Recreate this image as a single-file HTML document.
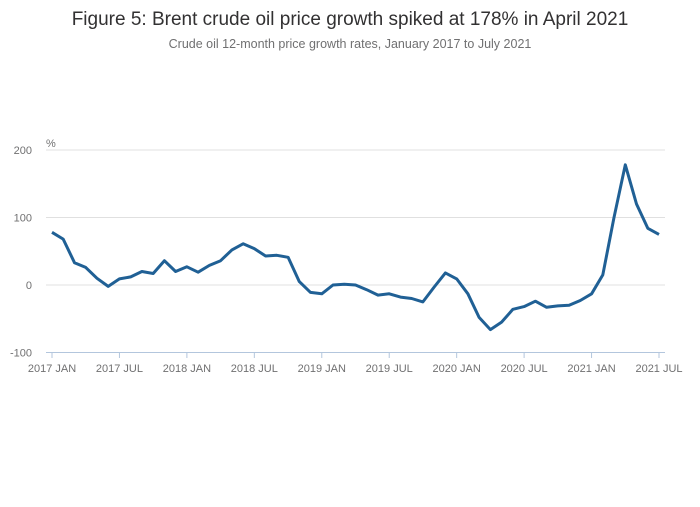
<!DOCTYPE html>
<html><head><meta charset="utf-8"><style>
body{margin:0;background:#fff;font-family:"Liberation Sans",sans-serif;}
svg text{font-family:"Liberation Sans",sans-serif;}
</style></head><body>
<svg width="700" height="502">
<text x="350" y="25" text-anchor="middle" font-size="19" fill="#323132">Figure 5: Brent crude oil price growth spiked at 178% in April 2021</text>
<text x="350" y="48" text-anchor="middle" font-size="12.5" fill="#707071">Crude oil 12-month price growth rates, January 2017 to July 2021</text>
<text x="46" y="147" font-size="11" fill="#707071">%</text>
<g id="grid"></g><g id="xaxis"></g>
<path id="line" fill="none" stroke="#206095" stroke-width="3" stroke-linejoin="round"/>
</svg>
<script>
const yTicks=[200,100,0,-100];
const xTickLabels=["2017 JAN","2017 JUL","2018 JAN","2018 JUL","2019 JAN","2019 JUL","2020 JAN","2020 JUL","2021 JAN","2021 JUL"];
const values=[78,68,33,26,10,-2,9,12,20,17,36,20,27,19,29,36,52,61,54,43,44,41,5,-11,-13,0,1,0,-7,-15,-13,-18,-20,-25,-3,18,9,-13,-48,-66,-55,-36,-32,-24,-33,-31,-30,-23,-13,15,100,178,120,84,75];
const NS="http://www.w3.org/2000/svg";
const x=i=>52+i*(607/54);
const y=v=>285-v*0.675;
const grid=document.getElementById('grid'),xa=document.getElementById('xaxis');
yTicks.forEach(t=>{
 const l=document.createElementNS(NS,'line');
 
 
 l.setAttribute('x1',46);l.setAttribute('x2',665);l.setAttribute('y1',y(t));l.setAttribute('y2',y(t));
 l.setAttribute('stroke',t===-100?'#b3c6dd':'#e0e0e0');l.setAttribute('stroke-width',1);
 grid.appendChild(l);
 const tx=document.createElementNS(NS,'text');
 
 
 tx.setAttribute('x',32);tx.setAttribute('y',y(t)+4);tx.setAttribute('text-anchor','end');
 tx.setAttribute('font-size',11);tx.setAttribute('fill','#707071');tx.textContent=t;
 grid.appendChild(tx);
});
xTickLabels.forEach((lab,k)=>{
 const xx=x(k*6);
 const l=document.createElementNS(NS,'line');
 
 
 l.setAttribute('x1',xx);l.setAttribute('x2',xx);l.setAttribute('y1',352);l.setAttribute('y2',358);
 l.setAttribute('stroke','#b3c6dd');xa.appendChild(l);
 const tx=document.createElementNS(NS,'text');
 
 
 tx.setAttribute('x',xx);tx.setAttribute('y',372);tx.setAttribute('text-anchor','middle');
 tx.setAttribute('font-size',11);tx.setAttribute('fill','#707071');tx.textContent=lab;
 xa.appendChild(tx);
});
document.getElementById('line').setAttribute('d',values.map((v,i)=>(i?'L':'M')+x(i).toFixed(1)+','+y(v).toFixed(1)).join(''));
</script>
</body></html>
